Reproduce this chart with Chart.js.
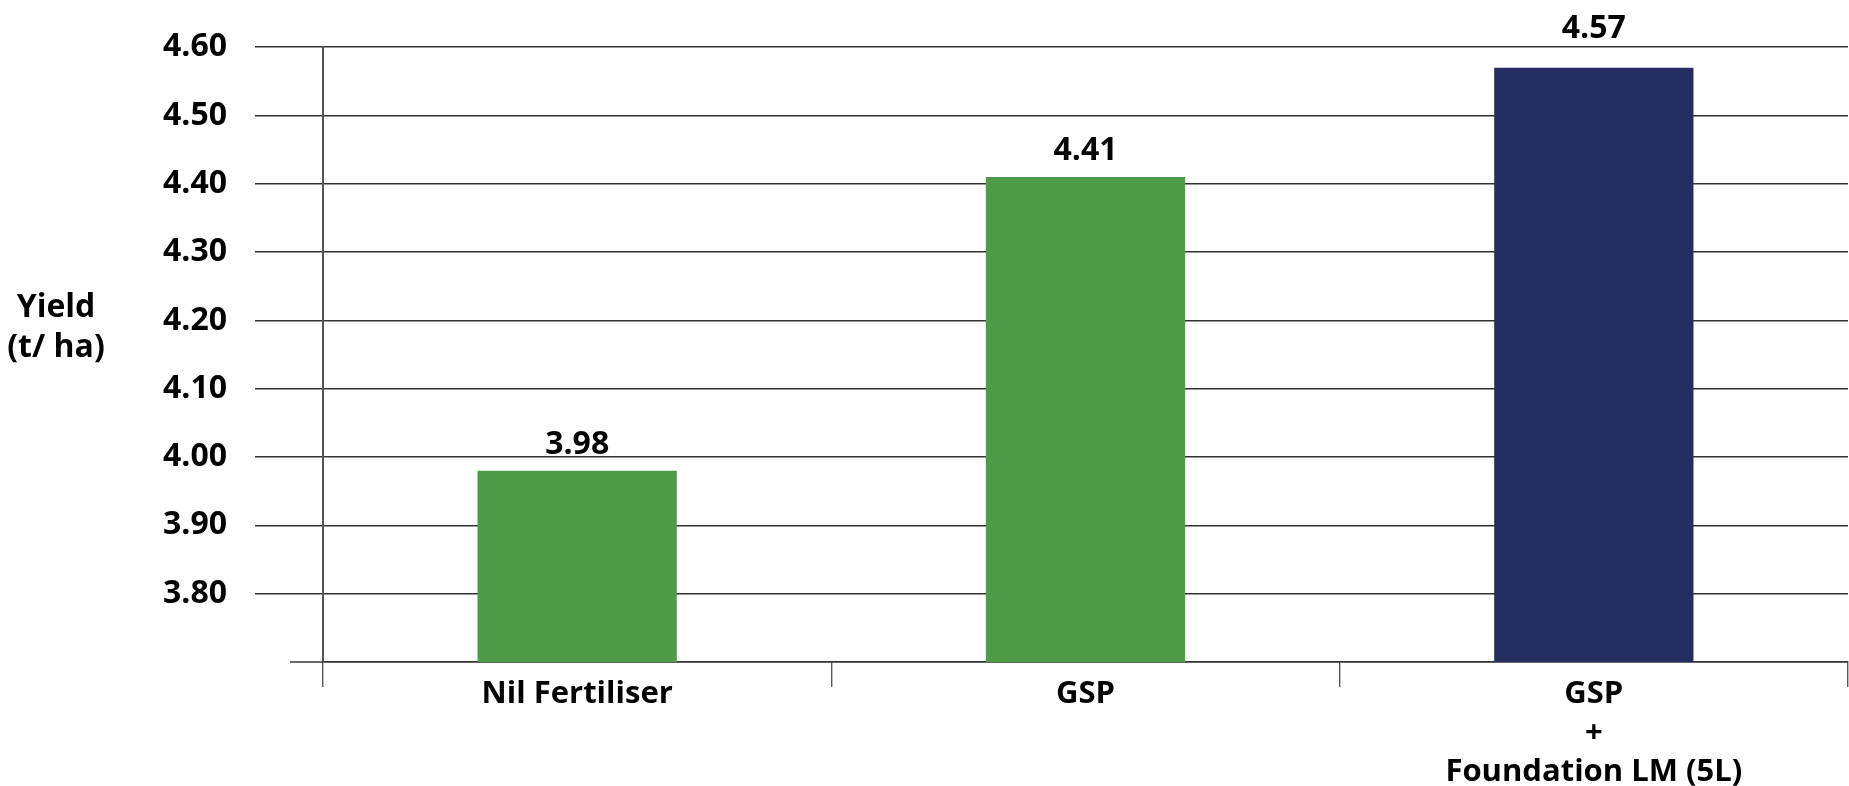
<!DOCTYPE html>
<html lang="en">
<head>
    <meta charset="UTF-8">
    <title>Yield (t/ ha)</title>
    <script src="https://cdn.jsdelivr.net/npm/chart.js"></script>
    <style>
        html, body { margin: 0; padding: 0; background: #fff; }
        .chart-container { position: relative; width: 1849px; height: 786px; }
    </style>
</head>
<body>
    <div class="chart-container">
        <canvas id="yieldChart"></canvas>
    </div>

    <script>
        // Data
        const categories = [['Nil Fertiliser'], ['GSP'], ['GSP', '+', 'Foundation LM (5L)']];
        const yieldValues = [3.98, 4.41, 4.57];
        const barColors = ['#4e9a47', '#4e9a47', '#242e62'];
        const yTicks = [3.70, 3.80, 3.90, 4.00, 4.10, 4.20, 4.30, 4.40, 4.50, 4.60];
        const yTitle = ['Yield', '(t/ ha)'];

        const FONT = "'Open Sans', 'Noto Sans', sans-serif";

        // Value labels above the bars; keep them clear of the top gridline
        const valueLabels = {
            id: 'valueLabels',
            afterDatasetsDraw(chart) {
                const ctx = chart.ctx;
                const meta = chart.getDatasetMeta(0);
                ctx.save();
                ctx.font = 'bold 32px ' + FONT;
                ctx.fillStyle = '#000';
                ctx.textAlign = 'center';
                ctx.textBaseline = 'alphabetic';
                meta.data.forEach((bar, i) => {
                    let y = bar.y - 17;
                    if (y - 24 < chart.chartArea.top + 3) y = chart.chartArea.top - 9;
                    ctx.fillText(yieldValues[i].toFixed(2), bar.x, y);
                });
                ctx.restore();
            }
        };

        // Horizontal axis title on the left + short stub of the base line
        const axisTitle = {
            id: 'axisTitle',
            afterDraw(chart) {
                const ctx = chart.ctx;
                const area = chart.chartArea;
                ctx.save();
                ctx.strokeStyle = '#333';
                ctx.lineWidth = 1.5;
                ctx.beginPath();
                ctx.moveTo(area.left - 33, area.bottom);
                ctx.lineTo(area.left, area.bottom);
                ctx.stroke();

                ctx.font = 'bold 32px ' + FONT;
                ctx.fillStyle = '#000';
                ctx.textAlign = 'center';
                ctx.textBaseline = 'alphabetic';
                ctx.fillText(yTitle[0], 56, 317);
                ctx.fillText(yTitle[1], 56, 357);
                ctx.restore();
            }
        };

        const ctx = document.getElementById('yieldChart').getContext('2d');
        new Chart(ctx, {
            type: 'bar',
            data: {
                labels: categories,
                datasets: [{
                    data: yieldValues,
                    backgroundColor: barColors,
                    borderWidth: 0,
                    barPercentage: 0.392,
                    categoryPercentage: 1.0
                }]
            },
            options: {
                responsive: true,
                maintainAspectRatio: false,
                animation: false,
                layout: { padding: { left: 163, top: 41, right: 1, bottom: 0 } },
                plugins: {
                    legend: { display: false },
                    tooltip: { enabled: false }
                },
                scales: {
                    x: {
                        grid: {
                            offset: true,
                            drawOnChartArea: false,
                            drawTicks: true,
                            tickLength: 25,
                            color: '#555',
                            lineWidth: 1.4
                        },
                        border: { display: true, color: '#333', width: 1.5 },
                        ticks: {
                            color: '#000',
                            padding: -12,
                            maxRotation: 0,
                            autoSkip: false,
                            font: { family: FONT, size: 31, weight: 'bold', lineHeight: 1.26 }
                        },
                        afterFit(scale) { scale.height = 124; }
                    },
                    y: {
                        min: yTicks[0],
                        max: yTicks[yTicks.length - 1],
                        afterBuildTicks(scale) {
                            scale.ticks = yTicks.map(v => ({ value: v }));
                        },
                        grid: {
                            color: '#333',
                            lineWidth: 1.5,
                            tickLength: 68,
                            tickColor: c => (c.tick && Math.abs(c.tick.value - yTicks[0]) < 1e-9 ? 'rgba(0,0,0,0)' : '#333')
                        },
                        border: { display: true, color: '#555', width: 2 },
                        ticks: {
                            color: '#000',
                            padding: 28,
                            font: { family: FONT, size: 32, weight: 'bold' },
                            callback: v => (Math.abs(v - yTicks[0]) < 1e-9 ? '' : Number(v).toFixed(2))
                        },
                        afterFit(scale) { scale.width = 160; }
                    }
                }
            },
            plugins: [valueLabels, axisTitle]
        });
    </script>
</body>
</html>
